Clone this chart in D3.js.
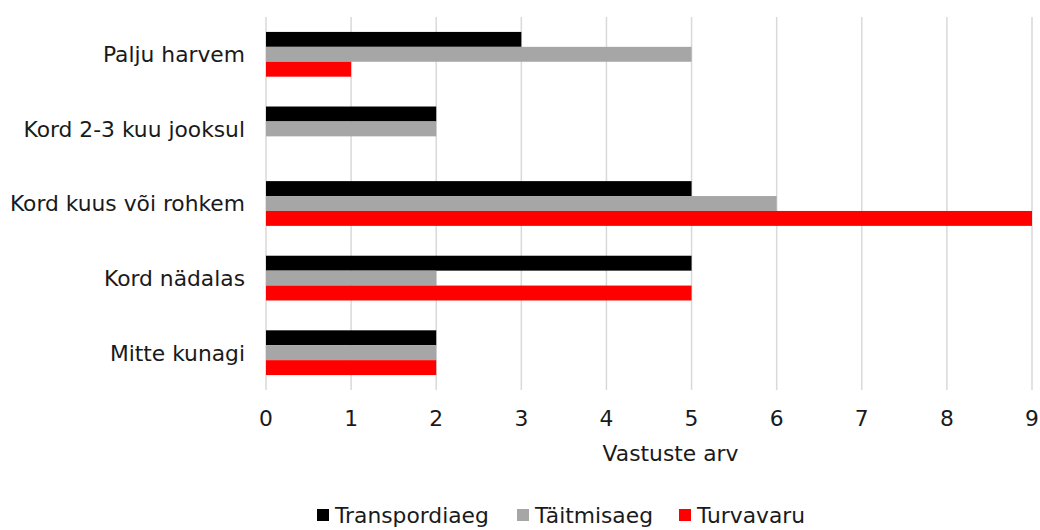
<!DOCTYPE html>
<html>
<head>
<meta charset="utf-8">
<script src="https://cdn.jsdelivr.net/npm/d3@7"></script>
<style>
  html, body { margin: 0; padding: 0; background: #fff; }
  svg text { font-family: "DejaVu Sans", Verdana, sans-serif; fill: #1a1a1a; }
</style>
</head>
<body>
<svg id="chart" width="1040" height="530"></svg>
<script>
// Categories, top to bottom
const categories = ["Palju harvem", "Kord 2-3 kuu jooksul", "Kord kuus või rohkem", "Kord nädalas", "Mitte kunagi"];
const seriesNames = ["Transpordiaeg", "Täitmisaeg", "Turvavaru"];
const seriesColors = ["#000000", "#a6a6a6", "#ff0000"];
// Values per series, aligned with categories
const transpordiaeg = [3, 2, 5, 5, 2];
const taitmisaeg = [5, 2, 6, 2, 2];
const turvavaru = [1, 0, 9, 5, 2];
const xTicks = [0, 1, 2, 3, 4, 5, 6, 7, 8, 9];
const axisTitle = "Vastuste arv";

const seriesValues = [transpordiaeg, taitmisaeg, turvavaru];
const fontSize = 21.8;

const svg = d3.select("#chart");
const plot = { left: 266, right: 1032, top: 17, bottom: 390 };

const x = d3.scaleLinear().domain([0, 9]).range([plot.left, plot.right]);
const y = d3.scaleBand().domain(categories).range([plot.top, plot.bottom])
  .paddingInner(0.4).paddingOuter(0.2);
const ySub = d3.scaleBand().domain(seriesNames).range([0, y.bandwidth()]);

// Vertical gridlines
svg.append("g").selectAll("line").data(xTicks).join("line")
  .attr("x1", d => x(d)).attr("x2", d => x(d))
  .attr("y1", plot.top).attr("y2", plot.bottom)
  .attr("stroke", "#d9d9d9").attr("stroke-width", 1.5);

// Bars
const groups = svg.append("g").selectAll("g").data(categories).join("g")
  .attr("transform", c => `translate(0,${y(c)})`);
groups.selectAll("rect")
  .data((c, i) => seriesNames.map((s, j) => ({ s, j, v: seriesValues[j][i] })))
  .join("rect")
  .attr("x", x(0))
  .attr("y", d => ySub(d.s))
  .attr("width", d => x(d.v) - x(0))
  .attr("height", ySub.bandwidth())
  .attr("fill", d => seriesColors[d.j]);

// Category labels
svg.append("g").selectAll("text").data(categories).join("text")
  .attr("x", 245)
  .attr("y", c => y(c) + y.bandwidth() / 2)
  .attr("dy", "0.36em")
  .attr("text-anchor", "end")
  .attr("font-size", fontSize)
  .text(c => c);

// X tick labels
svg.append("g").selectAll("text").data(xTicks).join("text")
  .attr("x", d => x(d))
  .attr("y", 426)
  .attr("text-anchor", "middle")
  .attr("font-size", fontSize)
  .text(d => d);

// Axis title
svg.append("text")
  .attr("x", 670.5)
  .attr("y", 461)
  .attr("text-anchor", "middle")
  .attr("font-size", fontSize)
  .text(axisTitle);

// Legend along the bottom edge
const legendX = [317, 517, 679];
const legend = svg.append("g").selectAll("g").data(seriesNames).join("g")
  .attr("transform", (d, i) => `translate(${legendX[i]},509)`);
legend.append("rect").attr("width", 12).attr("height", 12)
  .attr("fill", (d, i) => seriesColors[i]);
legend.append("text").attr("x", 18).attr("y", 6).attr("dy", "0.36em")
  .attr("font-size", fontSize).text(d => d);
</script>
</body>
</html>
